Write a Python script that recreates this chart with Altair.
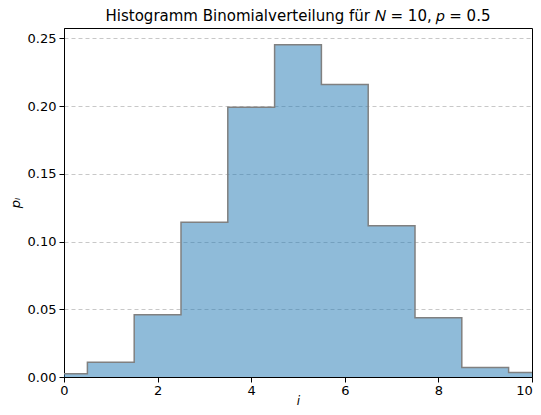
import altair as alt
import pandas as pd

# bin centres i and relative frequencies p_i
centers = [0, 1, 2, 3, 4, 5, 6, 7, 8, 9, 10]
values = [0.0024, 0.0108, 0.046, 0.1142, 0.1991, 0.2454, 0.2159, 0.1117, 0.0438, 0.0070, 0.0034]

edges = [c - 0.5 for c in centers] + [centers[-1] + 0.5]
vals = values + [values[-1]]
df = pd.DataFrame({"x": edges, "p": vals})

x_scale = alt.Scale(domain=[0, 10], nice=False, zero=False)
y_scale = alt.Scale(domain=[0, 0.2577], nice=False)

x_axis = alt.Axis(values=[0, 2, 4, 6, 8, 10], format="d", grid=False, title="i",
                  titleFontStyle="italic", titleFontWeight="normal", titleFontSize=12,
                  tickSize=5, labelFontSize=13, labelPadding=2, titlePadding=-2,
                  labelFlush=False, labelOverlap=False,
                  labelOffset={"condition": {"test": "datum.value == 10", "value": -8}, "value": 0},
                  domainColor="black", tickColor="black", labelColor="black", titleColor="black")
y_axis = alt.Axis(values=[0, 0.05, 0.1, 0.15, 0.2, 0.25], format=".2f", grid=True,
                  gridDash=[4, 3], gridColor="#b0b0b0", gridOpacity=0.7, gridWidth=1,
                  title="pᵢ", titleFontStyle="italic", titleFontWeight="normal", titleFontSize=13,
                  tickSize=5, labelFontSize=13, labelPadding=3, titlePadding=5,
                  labelFlush=False, labelOverlap=False,
                  domainColor="black", tickColor="black", labelColor="black", titleColor="black")

base = alt.Chart(df)
area = base.mark_area(interpolate="step-after", color="#1f77b4", opacity=0.5, clip=True).encode(
    x=alt.X("x:Q", scale=x_scale, axis=x_axis),
    y=alt.Y("p:Q", scale=y_scale, axis=y_axis),
)
line = base.mark_line(interpolate="step-after", color="#808080", strokeWidth=1.5, clip=True).encode(
    x=alt.X("x:Q", scale=x_scale),
    y=alt.Y("p:Q", scale=y_scale),
)

chart = (area + line).properties(
    width=468, height=349,
    title=alt.TitleParams("Histogramm Binomialverteilung für 𝑁 = 10, 𝑝 = 0.5",
                          fontSize=15, fontWeight="normal", color="black", offset=4,
                          anchor="middle"),
    autosize=alt.AutoSizeParams(type="none"),
    padding={"left": 56, "top": 20, "right": 1, "bottom": 30},
).configure(font="DejaVu Sans").configure_view(stroke="black", strokeWidth=1)

chart.save("out.html", embed_options={"renderer": "svg", "actions": False})
